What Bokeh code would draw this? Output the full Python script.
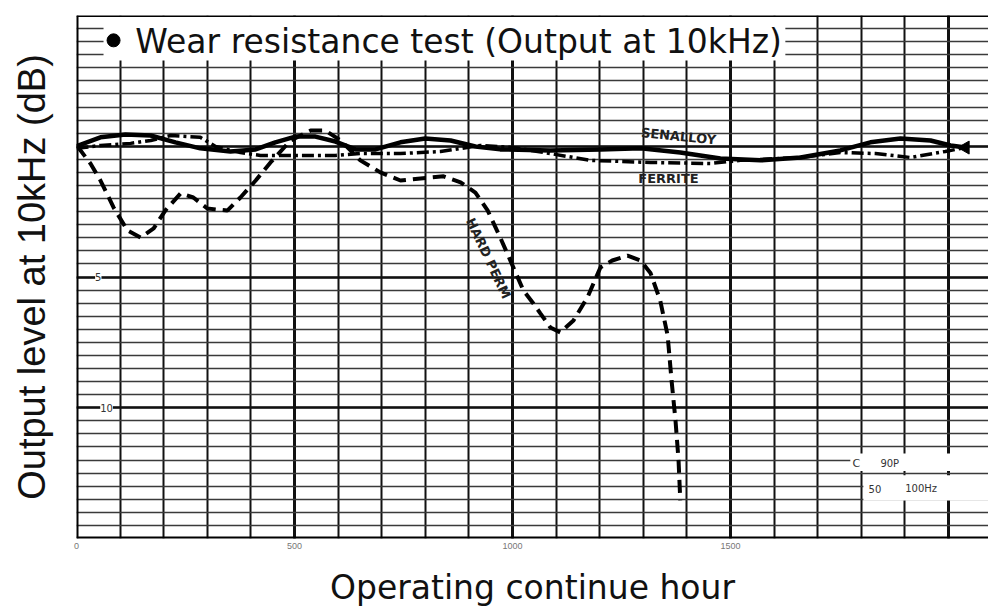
import math
from bokeh.plotting import figure
from bokeh.models import Range1d, FixedTicker, Span, Label
from bokeh.embed import file_html
from bokeh.resources import INLINE

# ---------------- data ----------------
hours_senalloy = [0, 55, 112, 170, 227, 284, 353, 411, 456, 502, 548, 594, 640, 686,
                  743, 800, 858, 915, 972, 1087, 1202, 1294, 1385, 1477, 1569, 1661,
                  1752, 1821, 1890, 1959, 2005, 2039]
db_senalloy = [0.0, -0.34, -0.45, -0.41, -0.15, 0.08, 0.20, 0.12, -0.15, -0.37, -0.37,
               -0.18, 0.12, 0.12, -0.15, -0.30, -0.22, 0.01, 0.12, 0.16, 0.12, 0.08,
               0.24, 0.47, 0.54, 0.43, 0.16, -0.15, -0.30, -0.22, -0.03, 0.05]

hours_ferrite = [0, 55, 124, 170, 216, 284, 319, 376, 422, 491, 594, 651, 743, 835, 927,
                 1002, 1087, 1179, 1317, 1454, 1523, 1661, 1752, 1833, 1913, 1993, 2039]
db_ferrite = [0.08, -0.03, -0.11, -0.22, -0.41, -0.34, 0.01, 0.24, 0.35, 0.35, 0.35, 0.28,
              0.28, 0.20, -0.03, 0.05, 0.28, 0.54, 0.62, 0.66, 0.54, 0.43, 0.24, 0.28,
              0.43, 0.20, 0.05]

hours_hardperm = [2, 32, 55, 85, 117, 147, 177, 204, 239, 268, 300, 346, 376, 411, 445,
                  491, 537, 571, 606, 651, 697, 743, 789, 842, 881, 915, 943, 972, 1002,
                  1025, 1048, 1064, 1087, 1110, 1140, 1172, 1202, 1229, 1264, 1294, 1317,
                  1339, 1356, 1365, 1374, 1381, 1385]
db_hardperm = [0.0, 0.66, 1.31, 2.34, 3.22, 3.49, 3.14, 2.45, 1.80, 1.96, 2.38, 2.46, 1.96,
               1.31, 0.62, -0.22, -0.60, -0.60, -0.22, 0.54, 1.00, 1.31, 1.23, 1.15, 1.38,
               1.77, 2.45, 3.49, 4.63, 5.51, 6.01, 6.39, 6.93, 7.12, 6.66, 5.78, 4.63,
               4.37, 4.18, 4.37, 4.86, 5.90, 7.24, 8.96, 10.48, 12.01, 13.54]

x_tick_values = [0, 500, 1000, 1500]
x_tick_labels = ["0", "500", "1000", "1500"]
y_label_values = [5, 10]
y_label_texts = ["5", "10"]

# ---------------- figure ----------------
p = figure(width=988, height=610, output_backend="svg", toolbar_location=None,
           x_range=Range1d(0, 2092), y_range=Range1d(15, -5),
           min_border_left=76, min_border_right=0, min_border_top=15, min_border_bottom=72,
           x_axis_label="Operating continue hour",
           y_axis_label="Output level at 10kHz (dB)")
p.outline_line_color = None
p.background_fill_color = "white"
p.border_fill_color = "white"

xa = p.xaxis[0]
xa.ticker = FixedTicker(ticks=x_tick_values)
xa.major_label_overrides = {v: t for v, t in zip(x_tick_values, x_tick_labels)}
xa.axis_line_color = None
xa.major_tick_line_color = None
xa.minor_tick_line_color = None
xa.major_tick_out = 0
xa.major_label_text_font_size = "9px"
xa.major_label_text_color = "#777777"
xa.major_label_standoff = 4
xa.axis_label_text_font = "DejaVu Sans"
xa.axis_label_text_font_size = "33px"
xa.axis_label_text_font_style = "normal"
xa.axis_label_text_color = "#111111"
xa.axis_label_standoff = 16

ya = p.yaxis[0]
ya.ticker = FixedTicker(ticks=[])
ya.axis_line_color = None
ya.major_tick_line_color = None
ya.minor_tick_line_color = None
ya.major_tick_out = 0
ya.major_label_standoff = 0
ya.axis_label_text_font = "Liberation Sans"
ya.axis_label_text_font_size = "38px"
ya.axis_label_text_font_style = "normal"
ya.axis_label_text_color = "#111111"
ya.axis_label_standoff = 24

# chart-paper grid
p.xgrid.ticker = FixedTicker(ticks=[0, 500, 1000, 1500, 2000],
                             minor_ticks=list(range(0, 2100, 100)))
p.xgrid.grid_line_color = "#111111"
p.xgrid.grid_line_width = 3
p.xgrid.minor_grid_line_color = "#111111"
p.xgrid.minor_grid_line_width = 2

p.ygrid.ticker = FixedTicker(ticks=[0, 5, 10],
                             minor_ticks=[-5 + 0.5 * i for i in range(41)])
p.ygrid.grid_line_color = "#111111"
p.ygrid.grid_line_width = 2.5
p.ygrid.minor_grid_line_color = "#3a3a3a"
p.ygrid.minor_grid_line_width = 1.5

# white areas on the paper (title box, range box)
p.quad(left=[62], right=[1626], top=[-5], bottom=[-3.28], fill_color="white", line_color=None)
p.quad(left=[1775], right=[2092], top=[11.75], bottom=[12.42], fill_color="white", line_color=None)
p.quad(left=[1805], right=[2092], top=[12.58], bottom=[13.55], fill_color="white", line_color=None)

# curves
p.line(hours_senalloy, db_senalloy, line_color="black", line_width=4.5, line_join="round")
p.line(hours_ferrite, db_ferrite, line_color="black", line_width=3.5, line_dash="12 4 3 4")
p.line(hours_hardperm, db_hardperm, line_color="black", line_width=4, line_dash="13 7")
p.scatter([hours_senalloy[-1]], [db_senalloy[-1]], marker="triangle", size=13,
          angle=math.pi / 2, color="black")

# frame borders
p.add_layout(Span(location=0, dimension="height", line_color="black", line_width=4))
p.add_layout(Span(location=-5, dimension="width", line_color="black", line_width=3))
p.add_layout(Span(location=15, dimension="width", line_color="black", line_width=4))

# title printed on the paper
p.scatter([85], [-4.05], size=13, color="black")
p.add_layout(Label(x=135, y=-4.0, text="Wear resistance test (Output at 10kHz)",
                   text_font="DejaVu Sans", text_font_size="33px", text_color="#111111",
                   text_baseline="alphabetic", text_align="left"))

# scale numbers printed on the paper
for v, t, xo in zip(y_label_values, y_label_texts, [50, 69]):
    p.add_layout(Label(x=xo, y=v, text=t, text_font="DejaVu Sans", text_font_size="10px",
                       text_color="#333333", text_align="center", text_baseline="middle",
                       background_fill_color="white"))

# curve names
p.add_layout(Label(x=1381, y=-0.38, text="SENALLOY", angle=-0.1, text_font="DejaVu Sans",
                   text_font_size="13px", text_font_style="bold", text_color="#222222",
                   text_align="center", text_baseline="middle"))
p.add_layout(Label(x=1358, y=1.23, text="FERRITE", text_font="DejaVu Sans",
                   text_font_size="13px", text_font_style="bold", text_color="#222222",
                   text_align="center", text_baseline="middle"))
p.add_layout(Label(x=945, y=4.29, text="HARD PERM", angle=-1.13, text_font="DejaVu Sans",
                   text_font_size="13px", text_font_style="bold", text_color="#222222",
                   text_align="center", text_baseline="middle"))

# recorder settings note
p.add_layout(Label(x=1780, y=12.12, text="C", text_font="DejaVu Sans", text_font_size="11px",
                   text_color="#333333", text_baseline="middle"))
p.add_layout(Label(x=1844, y=12.12, text="90P", text_font="DejaVu Sans", text_font_size="10px",
                   text_color="#333333", text_baseline="middle"))
p.add_layout(Label(x=1817, y=13.1, text="50", text_font="DejaVu Sans", text_font_size="10px",
                   text_color="#333333", text_baseline="middle"))
p.add_layout(Label(x=1901, y=13.1, text="100Hz", text_font="DejaVu Sans", text_font_size="10px",
                   text_color="#333333", text_baseline="middle"))

open("out.html", "w").write(file_html(p, INLINE))
